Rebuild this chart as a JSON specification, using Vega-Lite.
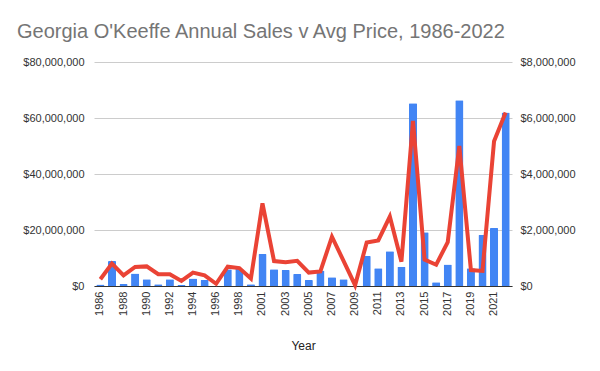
{
  "$schema": "https://vega.github.io/schema/vega-lite/v6.json",
  "autosize": "none",
  "width": 418,
  "height": 224,
  "padding": {"left": 94, "top": 62, "right": 88, "bottom": 85},
  "background": "white",
  "config": {
    "view": {"stroke": null},
    "font": "Liberation Sans",
    "axis": {"labelFont": "Liberation Sans", "titleFont": "Liberation Sans", "labelColor": "#333333", "titleColor": "#222222", "labelFontSize": 11, "gridColor": "#cccccc"}
  },
  "title": {
    "text": "Georgia O'Keeffe Annual Sales v Avg Price, 1986-2022",
    "anchor": "start",
    "frame": "group",
    "dx": -77,
    "offset": -2,
    "baseline": "alphabetic",
    "font": "Liberation Sans",
    "fontSize": 20,
    "fontWeight": "normal",
    "color": "#757575"
  },
  "data": {
    "values": [
      {"Year": "1986", "Sales": 500000, "AvgPrice": 240000},
      {"Year": "1987", "Sales": 8900000, "AvgPrice": 800000},
      {"Year": "1988", "Sales": 700000, "AvgPrice": 380000},
      {"Year": "1989", "Sales": 4500000, "AvgPrice": 680000},
      {"Year": "1990", "Sales": 2400000, "AvgPrice": 700000},
      {"Year": "1991", "Sales": 600000, "AvgPrice": 420000},
      {"Year": "1992", "Sales": 2400000, "AvgPrice": 420000},
      {"Year": "1993", "Sales": 350000, "AvgPrice": 180000},
      {"Year": "1994", "Sales": 2700000, "AvgPrice": 480000},
      {"Year": "1995", "Sales": 2100000, "AvgPrice": 380000},
      {"Year": "1996", "Sales": 100000, "AvgPrice": 80000},
      {"Year": "1997", "Sales": 6000000, "AvgPrice": 690000},
      {"Year": "1998", "Sales": 6200000, "AvgPrice": 640000},
      {"Year": "1999", "Sales": 600000, "AvgPrice": 270000},
      {"Year": "2001", "Sales": 11400000, "AvgPrice": 2950000},
      {"Year": "2002", "Sales": 6000000, "AvgPrice": 890000},
      {"Year": "2003", "Sales": 5700000, "AvgPrice": 850000},
      {"Year": "2004", "Sales": 4300000, "AvgPrice": 900000},
      {"Year": "2005", "Sales": 2100000, "AvgPrice": 480000},
      {"Year": "2006", "Sales": 5500000, "AvgPrice": 520000},
      {"Year": "2007", "Sales": 3100000, "AvgPrice": 1760000},
      {"Year": "2008", "Sales": 2400000, "AvgPrice": 900000},
      {"Year": "2009", "Sales": 50000, "AvgPrice": 30000},
      {"Year": "2010", "Sales": 10700000, "AvgPrice": 1550000},
      {"Year": "2011", "Sales": 6300000, "AvgPrice": 1630000},
      {"Year": "2012", "Sales": 12400000, "AvgPrice": 2480000},
      {"Year": "2013", "Sales": 6900000, "AvgPrice": 870000},
      {"Year": "2014", "Sales": 65300000, "AvgPrice": 5900000},
      {"Year": "2015", "Sales": 19200000, "AvgPrice": 940000},
      {"Year": "2016", "Sales": 1300000, "AvgPrice": 760000},
      {"Year": "2017", "Sales": 7700000, "AvgPrice": 1570000},
      {"Year": "2018", "Sales": 66300000, "AvgPrice": 5000000},
      {"Year": "2019", "Sales": 6300000, "AvgPrice": 570000},
      {"Year": "2020", "Sales": 18200000, "AvgPrice": 540000},
      {"Year": "2021", "Sales": 20700000, "AvgPrice": 5170000},
      {"Year": "2022", "Sales": 62000000, "AvgPrice": 6200000}
    ]
  },
  "encoding": {
    "x": {
      "field": "Year",
      "type": "ordinal",
      "scale": {"paddingInner": 0.3, "paddingOuter": 0.2},
      "axis": {
        "title": "Year",
        "titleFontSize": 12,
        "titleFontWeight": "normal",
        "titlePadding": 25,
        "labelAngle": -90,
        "labelPadding": 5,
        "ticks": false,
        "domainColor": "#333333",
        "values": ["1986","1988","1990","1992","1994","1996","1998","2001","2003","2005","2007","2009","2011","2013","2015","2017","2019","2021"]
      }
    }
  },
  "layer": [
    {
      "mark": {"type": "bar", "color": "#4285f4", "cornerRadiusTopLeft": 1, "cornerRadiusTopRight": 1},
      "encoding": {
        "y": {
          "field": "Sales",
          "type": "quantitative",
          "scale": {"domain": [0, 80000000]},
          "axis": {"title": null, "format": "$,.0f", "values": [0, 20000000, 40000000, 60000000, 80000000], "ticks": false, "domain": false, "labelPadding": 10}
        }
      }
    },
    {
      "mark": {"type": "line", "color": "#ea4335", "strokeWidth": 4, "strokeJoin": "miter"},
      "encoding": {
        "y": {
          "field": "AvgPrice",
          "type": "quantitative",
          "scale": {"domain": [0, 8000000]},
          "axis": {"title": null, "orient": "right", "format": "$,.0f", "values": [0, 2000000, 4000000, 6000000, 8000000], "ticks": false, "domain": false, "grid": false, "labelPadding": 8}
        }
      }
    }
  ],
  "resolve": {"scale": {"y": "independent"}}
}
